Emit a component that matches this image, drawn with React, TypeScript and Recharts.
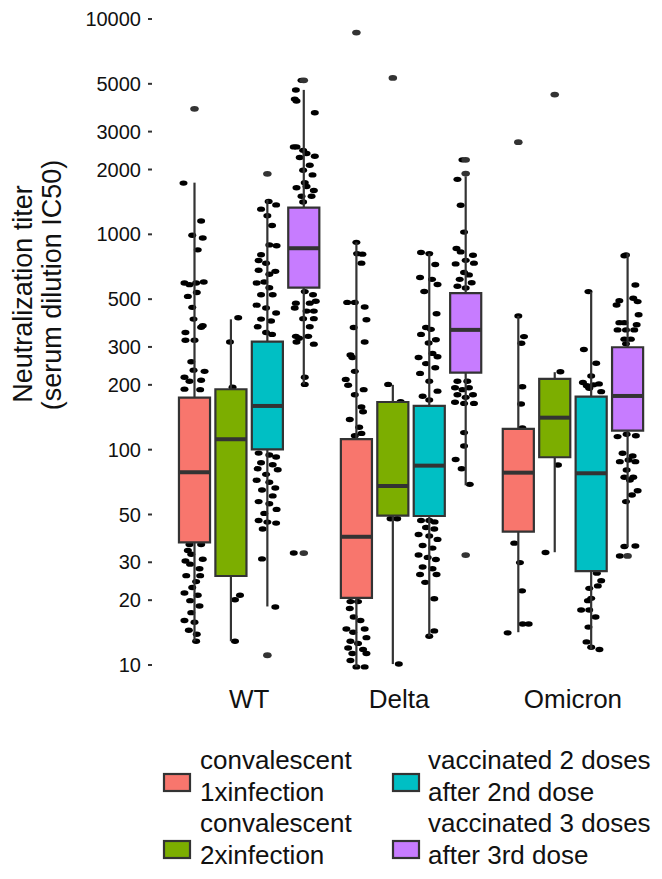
import React from 'react';
import { ScatterChart, Scatter, XAxis, YAxis, ReferenceArea, ReferenceLine } from 'recharts';

const groups = ['WT', 'Delta', 'Omicron'];
const cohortLines = [
  ['convalescent', '1xinfection'],
  ['convalescent', '2xinfection'],
  ['vaccinated 2 doses', 'after 2nd dose'],
  ['vaccinated 3 doses', 'after 3rd dose'],
];
const colors = ['#F8766D', '#7CAE00', '#00BFC4', '#C77CFF'];
const yTicks = [10, 20, 30, 50, 100, 200, 300, 500, 1000, 2000, 3000, 5000, 10000];

// box statistics, [cohort][group]
const whiskerLow = [[12.9, 9.8, 14.2], [12.9, 10.1, 33.4], [18.7, 13.6, 11.8], [201, 68.3, 35.4]];
const q1 = [[37.1, 20.5, 41.6], [25.9, 49.4, 92.2], [100.4, 49.2, 27.3], [566, 228, 122.6]];
const median = [[78.5, 39.4, 78.2], [111.8, 67.8, 140.8], [159.6, 84.3, 77.7], [862, 360, 177.6]];
const q3 = [[174.4, 112, 124.8], [190.8, 166.5, 213], [317.5, 159.6, 176.3], [1331, 533, 299]];
const whiskerHigh = [[1738, 918, 418], [403, 200, 229], [1445, 814, 541], [4686, 1860, 817]];
const outliers = [
  [[3828], [8650], [2678]],
  [[], [5325], [4457]],
  [[1910, 11.1], [], []],
  [[5190, 33.1], [1915, 2218, 32.4], [32.1]],
];

// jittered observations: [jitter (category units), titer]
const wtC1 = [[-0.068, 1730], [0.041, 1153], [-0.014, 991], [0.051, 962], [0.02, 847], [-0.062, 594], [-0.031, 584], [0.01, 594], [0.057, 601], [-0.041, 515], [0.014, 537], [-0.014, 458], [-0.006, 404], [0.041, 370], [0.051, 376], [-0.056, 350], [-0.056, 322], [0, 322], [-0.02, 256], [-0.006, 234], [0.062, 231], [-0.062, 217], [-0.031, 208], [0.041, 210], [-0.062, 191], [0.035, 190], [-0.031, 36.3], [0.041, 36.3], [-0.041, 34.0], [-0.02, 32.7], [-0.056, 30.4], [-0.027, 29.4], [0.051, 31.0], [0.031, 28.0], [-0.051, 26.0], [0.035, 26.0], [0.01, 24.4], [-0.014, 22.9], [-0.062, 21.6], [0.02, 21.1], [-0.027, 19.9], [0.031, 18.8], [-0.02, 17.5], [-0.062, 16.1], [0, 15.8], [-0.035, 14.5], [0.014, 13.9], [0.01, 12.9]];
const wtC2 = [[0.045, 410], [-0.006, 316], [0.01, 195], [0.056, 21.1], [0.025, 20.1], [0.025, 12.9]];
const wtC3 = [[0.008, 1422], [0.054, 1370], [-0.039, 1309], [0, 1219], [0.029, 1099], [0.012, 893], [0.057, 885], [-0.039, 804], [-0.054, 756], [-0.008, 734], [-0.054, 681], [0.012, 653], [0.049, 673], [-0.066, 594], [-0.019, 601], [0.012, 565], [-0.039, 524], [0.033, 524], [-0.066, 469], [-0.008, 455], [0.054, 431], [-0.039, 404], [0.023, 396], [-0.06, 372], [-0.008, 350], [0.029, 343], [-0.054, 96.4], [0.012, 94.4], [0.054, 92.5], [-0.039, 86.9], [0.033, 85.1], [-0.06, 81.6], [0.064, 80.7], [-0.008, 76.8], [-0.066, 72.1], [0.012, 70.6], [0.049, 66.4], [-0.033, 65.0], [0.033, 61.0], [-0.054, 57.4], [0.012, 56.1], [0.057, 52.8], [-0.019, 50.6], [-0.054, 46.9], [0, 46.1], [0.054, 45.6], [-0.029, 42.8], [-0.033, 31.1], [0.049, 18.6]];
const wtC4 = [[-0.014, 5190], [-0.049, 4677], [-0.056, 4246], [-0.045, 4159], [0.068, 3672], [-0.062, 2547], [-0.045, 2547], [-0.004, 2455], [0.017, 2374], [0.068, 2305], [-0.025, 2276], [0.037, 2094], [-0.004, 1983], [0.054, 1888], [0.006, 1738], [0.017, 1667], [-0.045, 1645], [0.062, 1598], [-0.014, 1502], [0.048, 1502], [-0.004, 1412], [0.006, 542], [0.057, 524], [-0.049, 479], [0.037, 479], [0.074, 489], [-0.056, 455], [0.017, 440], [0.062, 440], [-0.004, 406], [0.062, 406], [0.037, 372], [-0.049, 336], [-0.029, 329], [0.027, 336], [0.062, 309], [-0.045, 316], [0.006, 217], [0.006, 201], [-0.062, 33.1]];

const deltaC1 = [[0, 918], [0.004, 814], [0.037, 809], [0.031, 735], [-0.057, 483], [-0.01, 483], [0.051, 460], [0.062, 401], [-0.017, 369], [0.051, 316], [-0.037, 275], [-0.025, 268], [-0.01, 231], [-0.066, 212], [-0.051, 199], [0.045, 190], [-0.01, 180], [0.031, 158], [0.041, 150], [-0.041, 138], [0.017, 127], [0.031, 119], [-0.01, 116], [-0.037, 19.7], [0.01, 19.7], [-0.041, 18.3], [-0.017, 16.7], [0.025, 16.1], [0.051, 14.7], [-0.062, 14.7], [-0.02, 14.2], [0.062, 13.4], [-0.037, 12.9], [0.01, 12.6], [-0.051, 12.0], [0.041, 11.8], [-0.025, 11.3], [0.062, 11.3], [-0.037, 10.5], [0, 9.8], [0.051, 9.8]];
const deltaC2 = [[-0.029, 201], [0.048, 167], [-0.014, 47.8], [0.027, 47.8], [0.037, 10.1]];
const deltaC3 = [[0, 814], [-0.051, 824], [0.037, 724], [-0.057, 630], [0.017, 618], [0.051, 585], [-0.031, 543], [0.045, 428], [-0.02, 369], [0.01, 362], [-0.051, 343], [0.041, 324], [-0.004, 313], [-0.066, 268], [0.02, 280], [0.051, 270], [-0.02, 251], [0.037, 240], [-0.057, 226], [0, 208], [0.051, 187], [-0.041, 177], [0, 170], [-0.051, 46.9], [0, 46.9], [0.033, 46.2], [-0.02, 43.5], [0.031, 42.8], [-0.066, 40.4], [0, 39.7], [0.051, 38.3], [-0.041, 35.9], [0.02, 34.9], [-0.066, 32.4], [-0.01, 31.6], [0.041, 30.9], [-0.041, 28.5], [0.02, 28.0], [-0.057, 26.3], [0.045, 26.3], [-0.025, 24.2], [0.031, 20.3], [0.031, 14.4], [0, 13.6]];
const deltaC4 = [[-0.02, 2218], [-0.051, 1800], [-0.031, 1365], [-0.01, 1024], [-0.057, 860], [-0.031, 829], [0.045, 799], [0, 757], [-0.062, 729], [0.051, 735], [-0.01, 665], [0.02, 648], [-0.037, 618], [0.037, 596], [-0.051, 574], [0, 564], [-0.051, 208], [0.01, 208], [-0.066, 194], [-0.02, 190], [0.02, 194], [-0.051, 180], [0, 175], [0.045, 180], [-0.066, 166], [-0.01, 164], [0.051, 164], [-0.01, 120], [-0.01, 104], [-0.062, 90.0], [-0.025, 81.5], [0.025, 69.0]];

const omiC1 = [[0, 418], [0.035, 335], [0.019, 312], [0.025, 196], [0.017, 163], [0.025, 126], [-0.025, 36.8], [0.01, 29.9], [0.023, 22.1], [-0.066, 14.1], [0.027, 15.5], [0.064, 15.5]];
const omiC2 = [[0.035, 230], [0.02, 84.9], [-0.057, 33.3]];
const omiC3 = [[-0.017, 542], [-0.045, 292], [0.031, 252], [0, 220], [-0.051, 205], [-0.027, 198], [0.014, 200], [0.048, 202], [0.062, 186], [-0.012, 193], [0.035, 26.7], [0.062, 24.6], [0.041, 23.3], [-0.012, 22.7], [0, 20.4], [-0.02, 19.9], [-0.062, 18.0], [-0.012, 18.0], [0.027, 16.7], [-0.017, 15.0], [-0.029, 12.8], [0, 12.1], [0.051, 11.8]];
const omiC4 = [[-0.01, 802], [-0.02, 795], [0.048, 582], [-0.051, 492], [0.035, 505], [0.062, 487], [-0.068, 470], [0.068, 423], [-0.051, 389], [-0.02, 389], [0.056, 380], [-0.062, 360], [-0.01, 360], [0.041, 360], [-0.02, 326], [0.02, 326], [-0.01, 310], [-0.062, 115], [-0.006, 118], [0.051, 116], [-0.031, 96.2], [0.031, 93.5], [-0.048, 88.0], [0.006, 89.5], [0.048, 88.0], [-0.006, 80.5], [-0.02, 74.5], [0.035, 74.5], [0.014, 72.3], [0.062, 64.5], [0.027, 61.6], [-0.01, 57.4], [-0.02, 35.5], [0.048, 35.7], [-0.048, 32.1]];

const observations = [
  [wtC1, deltaC1, omiC1],
  [wtC2, deltaC2, omiC2],
  [wtC3, deltaC3, omiC3],
  [wtC4, deltaC4, omiC4],
];

// layout constants (dodge positions / box half width in category units)
const dodge = [-0.3375, -0.1125, 0.1125, 0.3375];
const halfW = 0.096;
const INK = '#333333';
const FONT = '"Liberation Sans", Arial, sans-serif';

const center = (c: number, g: number) => g + 1 + dodge[c];

const jitterData: { x: number; y: number }[] = [];
observations.forEach((byGroup, c) =>
  byGroup.forEach((pts, g) =>
    pts.forEach(([j, v]) => jitterData.push({ x: center(c, g) + j, y: v }))
  )
);
const outlierData: { x: number; y: number }[] = [];
outliers.forEach((byGroup, c) =>
  byGroup.forEach((vals, g) => vals.forEach((v) => outlierData.push({ x: center(c, g), y: v })))
);

const Dot = (props: any) => (
  <ellipse cx={props.cx} cy={props.cy} rx={4} ry={2.7} fill="#000000" />
);
const OutDot = (props: any) => (
  <ellipse cx={props.cx} cy={props.cy} rx={4.3} ry={2.9} fill={INK} />
);

const labelShift = [0, -12, 0];
const XTick = (props: any) => {
  const { x, y, payload, index } = props;
  return (
    <text x={x + (labelShift[index] || 0)} y={y + 29} textAnchor="middle" fontSize={26} fontFamily={FONT} fill="#111">
      {groups[payload.value - 1]}
    </text>
  );
};

export default function App() {
  const boxes: React.ReactNode[] = [];
  for (let c = 0; c < 4; c++) {
    for (let g = 0; g < 3; g++) {
      const cx = center(c, g);
      boxes.push(
        <ReferenceLine key={`wu${c}${g}`} segment={[{ x: cx, y: q3[c][g] }, { x: cx, y: whiskerHigh[c][g] }]} stroke={INK} strokeWidth={2.2} zIndex={640} ifOverflow="visible" />,
        <ReferenceLine key={`wl${c}${g}`} segment={[{ x: cx, y: whiskerLow[c][g] }, { x: cx, y: q1[c][g] }]} stroke={INK} strokeWidth={2.2} zIndex={640} ifOverflow="visible" />,
        <ReferenceArea key={`b${c}${g}`} x1={cx - halfW} x2={cx + halfW} y1={q1[c][g]} y2={q3[c][g]} fill={colors[c]} fillOpacity={1} stroke={INK} strokeWidth={2.2} zIndex={650} ifOverflow="visible" />,
        <ReferenceLine key={`m${c}${g}`} segment={[{ x: cx - halfW, y: median[c][g] }, { x: cx + halfW, y: median[c][g] }]} stroke={INK} strokeWidth={4} zIndex={660} ifOverflow="visible" />
      );
    }
  }

  return (
    <div style={{ position: 'absolute', left: 0, top: 0, width: 662, height: 879, fontFamily: FONT, background: '#fff' }}>
      <ScatterChart width={662} height={879} margin={{ top: 6, right: 0, bottom: 160, left: 0 }}>
        <XAxis
          type="number"
          dataKey="x"
          domain={[0.4, 3.55]}
          ticks={[1, 2, 3]}
          allowDataOverflow
          axisLine={false}
          tickLine={false}
          tickSize={0}
          tickMargin={0}
          height={40}
          tick={<XTick />}
          interval={0}
        />
        <YAxis
          type="number"
          dataKey="y"
          scale="log"
          domain={[8.61, 11492]}
          ticks={yTicks}
          allowDataOverflow
          width={152}
          axisLine={false}
          tickLine={{ stroke: INK, strokeWidth: 2 }}
          tickSize={4}
          tickMargin={7}
          interval={0}
          tick={{ fontSize: 20, fill: '#111', fontFamily: FONT }}
        />
        <Scatter data={jitterData} shape={<Dot />} isAnimationActive={false} zIndex={600} />
        {boxes}
        <Scatter data={outlierData} shape={<OutDot />} isAnimationActive={false} zIndex={670} />
      </ScatterChart>
      <svg width={662} height={879} style={{ position: 'absolute', left: 0, top: 0, pointerEvents: 'none' }}>
        <g fontFamily={FONT} fontSize={27} fill="#111">
          <text transform="translate(32,294) rotate(-90)" textAnchor="middle">Neutralization titer</text>
          <text transform="translate(61,285) rotate(-90)" textAnchor="middle">(serum dilution IC50)</text>
        </g>
        <g fontFamily={FONT} fontSize={26} fill="#111">
          {[0, 1, 2, 3].map((c) => {
            const col = c < 2 ? 0 : 1;
            const row = c % 2;
            const kx = col === 0 ? 164 : 393;
            const tx = col === 0 ? 200 : 428;
            const ky = row === 0 ? 774 : 841;
            const by = row === 0 ? 769 : 832;
            return (
              <g key={c}>
                <rect x={kx} y={ky} width={26} height={17} fill={colors[c]} stroke={INK} strokeWidth={2.2} />
                <text x={tx} y={by}>{cohortLines[c][0]}</text>
                <text x={tx} y={by + 32}>{cohortLines[c][1]}</text>
              </g>
            );
          })}
        </g>
      </svg>
    </div>
  );
}
